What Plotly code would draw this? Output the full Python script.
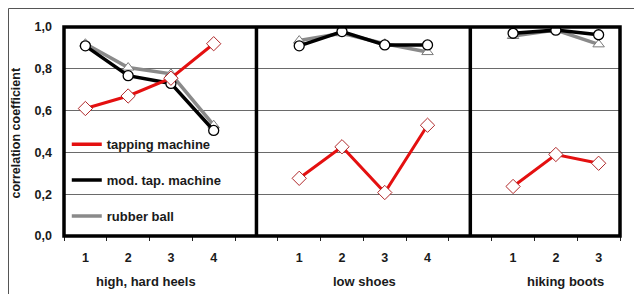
import plotly.graph_objects as go

# ---- data ----
groups = ["high, hard heels", "low shoes", "hiking boots"]
group_ticks = [["1", "2", "3", "4"], ["1", "2", "3", "4"], ["1", "2", "3"]]

tapping = [[0.61, 0.67, 0.755, 0.92], [0.276, 0.427, 0.208, 0.53], [0.237, 0.39, 0.348]]
mod_tap = [[0.91, 0.767, 0.73, 0.505], [0.91, 0.978, 0.914, 0.914], [0.97, 0.985, 0.963]]
rubber = [[0.92, 0.806, 0.776, 0.53], [0.935, 0.97, 0.92, 0.88], [0.957, 0.985, 0.917]]

y_ticks = [0.0, 0.2, 0.4, 0.6, 0.8, 1.0]

# ---- positions along a shared axis (one empty slot between groups) ----
xpos_groups = []
dividers = []
off = 0
for gi, t in enumerate(group_ticks):
    xpos_groups.append([off + i for i in range(len(t))])
    off += len(t)
    if gi < len(group_ticks) - 1:
        dividers.append(off)
        off += 1
n_slots = off


def flat(series):
    xs, ys = [], []
    for gi, vals in enumerate(series):
        xs += xpos_groups[gi]
        ys += vals
        if gi < len(series) - 1:
            xs.append(dividers[gi])
            ys.append(None)
    return xs, ys


FONT = "Arial, Liberation Sans, sans-serif"
RED = "#e41010"
BLACK = "#000000"
GRAY = "#8a8a8a"
TXT = "#1a1a1a"

fig = go.Figure()

specs = [
    ("rubber ball", rubber, GRAY, 3.5,
     dict(symbol="triangle-up", size=10, color="white", line=dict(color="#7a7a7a", width=1))),
    ("mod. tap. machine", mod_tap, BLACK, 3.5,
     dict(symbol="circle", size=10, color="white", line=dict(color=BLACK, width=1.3))),
    ("tapping machine", tapping, RED, 3,
     dict(symbol="diamond", size=11, color="white", line=dict(color="#b0282a", width=1))),
]
for name, series, col, w, mk in specs:
    xs, ys = flat(series)
    fig.add_trace(go.Scatter(x=xs, y=ys, mode="lines+markers", connectgaps=False,
                             line=dict(color=col, width=w), marker=mk,
                             showlegend=False, hoverinfo="skip"))

# legend-only entries (lines only)
legend_order = [("tapping machine", RED), ("mod. tap. machine", BLACK), ("rubber ball", GRAY)]
for rank, (name, col) in enumerate(legend_order):
    fig.add_trace(go.Scatter(x=[None], y=[None], mode="lines", name=name,
                             line=dict(color=col, width=3.5), legendgroup=name,
                             legendrank=rank + 1))

tickvals = [x for g in xpos_groups for x in g]
ticktext = [t for g in group_ticks for t in g]

# page has an 8px body margin, so the figure is sized/margined to compensate
fig.update_layout(
    width=634, height=286,
    margin=dict(l=56, r=22, t=19, b=58),
    paper_bgcolor="white", plot_bgcolor="white",
    separators=", ",
    font=dict(family=FONT, size=12.5, color=TXT),
    xaxis=dict(range=[-0.5, n_slots - 0.5], tickvals=tickvals, ticktext=ticktext,
               ticks="", showgrid=False, zeroline=False, showline=False,
               ticklabelstandoff=12,
               tickfont=dict(family=FONT, size=12.5, color=TXT, weight="bold"),
               minor=dict(ticks="outside", tick0=-0.5, dtick=1, ticklen=4,
                          tickcolor="#222", tickwidth=1, showgrid=False)),
    yaxis=dict(range=[0, 1], tickvals=y_ticks, tickformat=".1f", ticks="",
               showgrid=True, gridcolor="#6a6a6a", gridwidth=1.2, zeroline=False,
               showline=False, ticklabelstandoff=11,
               tickfont=dict(family=FONT, size=12.5, color=TXT, weight="bold")),
    legend=dict(x=0.005, y=0.511, xanchor="left", yanchor="top",
                bgcolor="rgba(0,0,0,0)", tracegroupgap=16,
                font=dict(family=FONT, size=13, color=TXT, weight="bold"),
                itemwidth=30),
    showlegend=True,
)

# plot frame and panel dividers
shapes = [
    dict(type="rect", xref="paper", yref="paper", x0=0, x1=1, y0=0, y1=1,
         line=dict(color="black", width=3.5), layer="above"),
]
for d in dividers:
    shapes.append(dict(type="line", xref="x", yref="paper", x0=d, x1=d, y0=0, y1=1,
                       line=dict(color="black", width=3.5), layer="above"))
# outer thin frame
shapes.append(dict(type="rect", xref="paper", yref="paper", x0=-0.0998, x1=1.2,
                   y0=-0.5, y1=1.0885, line=dict(color="#555", width=1), layer="below"))
fig.update_layout(shapes=shapes)

# group labels
label_shift = [-4, 1, 10]
for gi, g in enumerate(groups):
    xs = xpos_groups[gi]
    fig.add_annotation(x=sum(xs) / len(xs), y=0, xref="x", yref="paper",
                       yanchor="middle", yshift=-45, xshift=label_shift[gi],
                       text=g, showarrow=False,
                       font=dict(family=FONT, size=13, color=TXT, weight="bold"))

fig.add_annotation(x=0, y=0.5, xref="paper", yref="paper", xshift=-49, yshift=-2,
                   text="correlation coefficient", textangle=-90, showarrow=False,
                   xanchor="center", yanchor="middle",
                   font=dict(family=FONT, size=12.5, color=TXT, weight="bold"))

fig.write_html("out.html")
